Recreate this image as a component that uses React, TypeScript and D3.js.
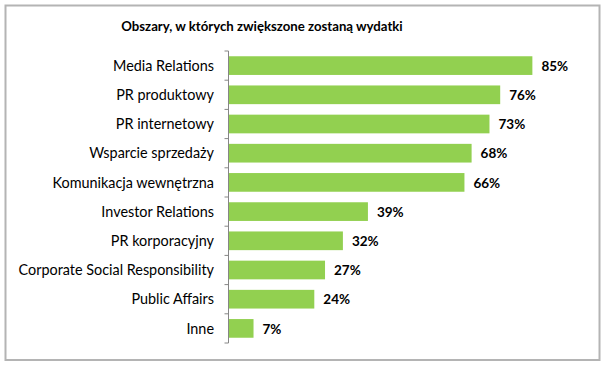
import React from 'react';
import * as d3 from 'd3';

const categories = [
  'Media Relations',
  'PR produktowy',
  'PR internetowy',
  'Wsparcie sprzedaży',
  'Komunikacja wewnętrzna',
  'Investor Relations',
  'PR korporacyjny',
  'Corporate Social Responsibility',
  'Public Affairs',
  'Inne',
];
const values = [85, 76, 73, 68, 66, 39, 32, 27, 24, 7];
const title = 'Obszary, w których zwiększone zostaną wydatki';

const W = 606;
const H = 367;
const FONT = 'Lato, "Open Sans", sans-serif';

export default function App() {
  const x = d3.scaleLinear().domain([0, 100]).range([228.5, 586]);
  const y = d3.scaleBand<string>().domain(categories).range([51, 343]).paddingInner(0.36).paddingOuter(0.18);
  const ticks = d3.range(categories.length + 1).map(i => 51 + (i * (343 - 51)) / categories.length);

  return (
    <svg width={W} height={H} style={{ position: 'absolute', left: 0, top: 0 }}>
      <rect x={0} y={0} width={W} height={H} fill="#fff" />
      <rect x={5.5} y={5.5} width={594} height={354.5} fill="#fff" stroke="#b4b4b4" strokeWidth={2} />
      <text x={262} y={31} textAnchor="middle" fontFamily={FONT} fontWeight="bold" fontSize={13.2} fill="#000">
        {title}
      </text>
      {categories.map((c, i) => (
        <g key={c}>
          <rect x={x(0)} y={y(c)} width={x(values[i]) - x(0)} height={y.bandwidth()} fill="#92D050" />
          <text
            x={214}
            y={(y(c) ?? 0) + y.bandwidth() / 2}
            dy="0.36em"
            textAnchor="end"
            fontFamily={FONT}
            fontSize={14.4}
            fill="#000"
          >
            {c}
          </text>
          <text
            x={x(values[i]) + 9}
            y={(y(c) ?? 0) + y.bandwidth() / 2}
            dy="0.38em"
            fontFamily={FONT}
            fontWeight="bold"
            fontSize={13.5}
            fill="#000"
          >
            {values[i]}%
          </text>
        </g>
      ))}
      <line x1={x(0)} x2={x(0)} y1={51} y2={343} stroke="#868686" />
      {ticks.map((t, i) => (
        <line key={i} x1={x(0) - 4} x2={x(0)} y1={t} y2={t} stroke="#868686" />
      ))}
    </svg>
  );
}
